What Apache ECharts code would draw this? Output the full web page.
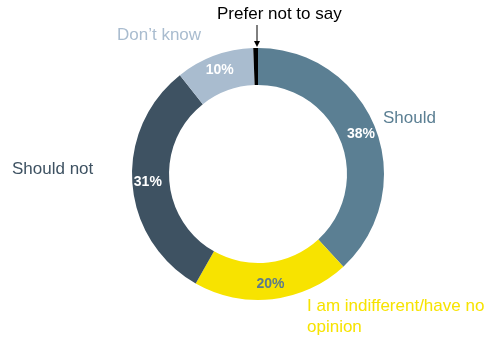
<!DOCTYPE html>
<html>
<head>
<meta charset="utf-8">
<script src="https://cdn.jsdelivr.net/npm/echarts@6/dist/echarts.min.js"></script>
<style>
  html, body { margin: 0; padding: 0; background: #fff; }
  #chart { width: 487px; height: 337px; }
</style>
</head>
<body>
<div id="chart"></div>
<script>
// Survey answers, clockwise from 12 o'clock
const categories = ['Should', 'I am indifferent/have no opinion', 'Should not', "Don\u2019t know", 'Prefer not to say'];
const shares = [38, 20, 31, 10, 0.6];
const sliceColors = ['#5b7f93', '#f7e300', '#3e5262', '#a9bccf', '#000000'];
const valueLabelColors = ['#ffffff', '#5b7a8c', '#ffffff', '#ffffff', '#ffffff'];

const FONT = '"Liberation Sans", Arial, Helvetica, sans-serif';

const chart = echarts.init(document.getElementById('chart'), null, { renderer: 'canvas' });

const pieData = categories.map((name, i) => ({
  name,
  value: shares[i],
  itemStyle: { color: sliceColors[i] },
  label: {
    show: shares[i] >= 5,
    color: valueLabelColors[i]
  }
}));

chart.setOption({
  animation: false,
  backgroundColor: '#ffffff',
  series: [{
    type: 'pie',
    center: [258, 174],
    radius: [89, 126],
    startAngle: 90,
    clockwise: true,
    silent: true,
    avoidLabelOverlap: false,
    itemStyle: { borderWidth: 0 },
    label: {
      position: 'inside',
      formatter: p => Math.round(p.value) + '%',
      fontFamily: FONT,
      fontSize: 14,
      fontWeight: 'bold'
    },
    labelLine: { show: false },
    data: pieData
  }],
  graphic: [
    { type: 'text', left: 383, top: 110, style: { text: categories[0], fill: sliceColors[0], font: '17px ' + FONT } },
    { type: 'text', left: 12, top: 161, style: { text: categories[2], fill: sliceColors[2], font: '17px ' + FONT } },
    { type: 'text', left: 117, top: 27, style: { text: categories[3], fill: sliceColors[3], font: '17px ' + FONT } },
    { type: 'text', left: 217, top: 6, style: { text: categories[4], fill: '#000000', font: '17px ' + FONT } },
    {
      type: 'text', left: 307, top: 296,
      style: {
        text: 'I am indifferent/have no\nopinion',
        fill: sliceColors[1], font: '17px ' + FONT, lineHeight: 21
      }
    },
    // pointer from "Prefer not to say" down to its slice
    { type: 'line', shape: { x1: 257, y1: 25, x2: 257, y2: 42 }, style: { stroke: '#000', lineWidth: 1 } },
    { type: 'polygon', shape: { points: [[254, 41], [260, 41], [257, 47]] }, style: { fill: '#000' } }
  ]
});
</script>
</body>
</html>
